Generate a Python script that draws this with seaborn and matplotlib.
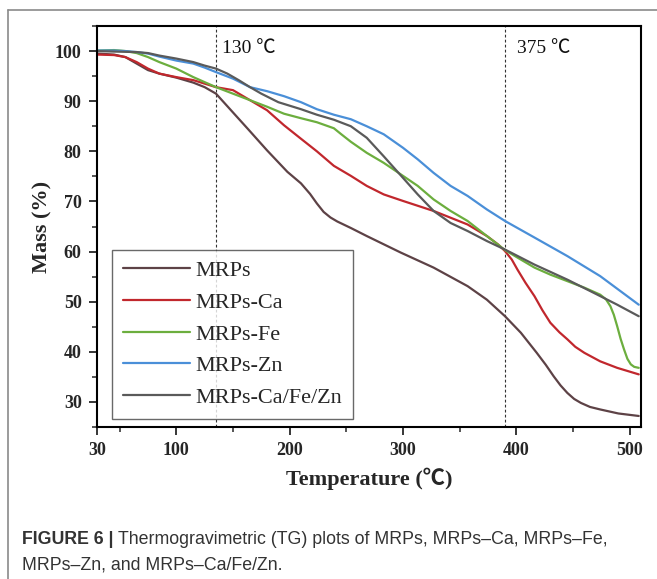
import pandas as pd
import matplotlib.pyplot as plt
import seaborn as sns
from matplotlib.ticker import MultipleLocator, FixedLocator
from matplotlib.lines import Line2D

# TG curves: temperature (C) and remaining mass (%)
mrps_t = [30, 45, 55, 65, 75, 85, 100, 115, 125, 135, 151, 163, 180, 198, 210, 218, 224, 230,
          236, 242, 254, 268, 298, 327, 357, 374, 390, 404, 418, 426, 433, 439, 445, 451, 457,
          465, 474, 490, 508]
mrps_m = [99.5, 99.3, 98.8, 97.5, 96.2, 95.5, 94.7, 93.7, 92.8, 91.5, 87.5, 84.5, 80.2, 75.9, 73.6,
          71.5, 69.6, 67.9, 66.8, 66.0, 64.7, 63.1, 59.8, 56.8, 53.1, 50.4, 47.1, 43.8, 39.8, 37.4,
          35.1, 33.3, 31.8, 30.6, 29.8, 29.0, 28.5, 27.7, 27.2]

ca_t = [30, 45, 55, 65, 75, 85, 100, 115, 125, 135, 150, 165, 180, 195, 210, 224, 239, 254, 268,
        283, 300, 327, 357, 374, 384, 390, 396, 401, 408, 416, 423, 430, 438, 445, 452, 460, 474,
        489, 508]
ca_m = [99.3, 99.2, 98.8, 97.8, 96.5, 95.5, 94.8, 94.2, 93.5, 92.8, 92.2, 90.2, 88.2, 85.2, 82.5,
        80.0, 77.1, 75.1, 73.1, 71.4, 70.1, 68.1, 65.4, 63.1, 61.4, 60.1, 58.4, 56.4, 53.8, 51.1,
        48.3, 45.8, 43.9, 42.5, 41.0, 39.8, 38.1, 36.8, 35.5]

fe_t = [30, 45, 55, 65, 75, 85, 100, 115, 125, 135, 150, 165, 180, 195, 210, 224, 239, 245, 254,
        268, 283, 300, 313, 327, 342, 357, 374, 390, 401, 416, 430, 445, 460, 474, 479, 483, 486,
        489, 492, 495, 498, 501, 504, 508]
fe_m = [100.1, 100.2, 100.0, 99.6, 98.8, 97.8, 96.5, 94.8, 93.8, 92.8, 91.5, 90.2, 88.9, 87.5,
        86.6, 85.8, 84.6, 83.5, 81.9, 79.7, 77.7, 75.1, 73.1, 70.4, 68.1, 66.1, 63.1, 60.3, 58.8,
        56.8, 55.4, 54.1, 52.8, 51.4, 50.5, 49.1, 47.4, 45.1, 42.6, 40.5, 38.6, 37.5, 37.0, 36.8]

zn_t = [30, 45, 55, 65, 75, 85, 100, 115, 125, 135, 150, 165, 180, 195, 210, 224, 239, 254, 268,
        283, 300, 313, 327, 342, 357, 374, 390, 416, 445, 474, 508]
zn_m = [100.1, 100.1, 100.0, 99.8, 99.5, 98.9, 98.1, 97.5, 96.7, 95.8, 94.5, 92.8, 92.0, 91.0,
        89.8, 88.4, 87.3, 86.4, 85.0, 83.4, 80.7, 78.4, 75.7, 73.1, 71.1, 68.4, 66.1, 62.8, 59.1,
        55.1, 49.4]

mix_t = [30, 45, 65, 75, 85, 100, 115, 125, 135, 145, 155, 165, 175, 190, 210, 224, 239, 254, 268,
         283, 300, 313, 327, 342, 357, 374, 390, 416, 445, 468, 489, 508]
mix_m = [100.0, 99.9, 99.8, 99.6, 99.1, 98.5, 97.8, 97.1, 96.5, 95.5, 94.2, 92.8, 91.5, 89.8, 88.4,
         87.3, 86.3, 85.0, 82.7, 79.0, 74.7, 71.4, 68.1, 65.7, 64.1, 62.1, 60.4, 57.4, 54.4, 51.8,
         49.4, 47.1]

samples = ['MRPs', 'MRPs-Ca', 'MRPs-Fe', 'MRPs-Zn', 'MRPs-Ca/Fe/Zn']
colors = ['#5d4246', '#c1272d', '#6cae3e', '#4a8fd8', '#5a5a5a']

# stage boundaries (dashed lines) and their labels
stage_x = [135, 390]
stage_labels = ['130 \u2103', '375 \u2103']

x_ticks = [30, 100, 200, 300, 400, 500]
y_ticks = [30, 40, 50, 60, 70, 80, 90, 100]

caption_bold = 'FIGURE 6 | '
caption_line1 = 'Thermogravimetric (TG) plots of MRPs, MRPs\u2013Ca, MRPs\u2013Fe,'
caption_line2 = 'MRPs\u2013Zn, and MRPs\u2013Ca/Fe/Zn.'

frames = []
for name, t, m in zip(samples, [mrps_t, ca_t, fe_t, zn_t, mix_t],
                      [mrps_m, ca_m, fe_m, zn_m, mix_m]):
    frames.append(pd.DataFrame({'temp': t, 'mass': m, 'sample': name}))
df = pd.concat(frames, ignore_index=True)

sns.set_style('ticks')
plt.rcParams['font.family'] = ['Liberation Serif', 'Noto Sans CJK SC']

fig = plt.figure(figsize=(6.57, 5.79), dpi=100)
ax = fig.add_axes([97 / 657, 1 - 427 / 579, 544 / 657, 401 / 579])

sns.lineplot(data=df, x='temp', y='mass', hue='sample', hue_order=samples,
             palette=colors, estimator=None, sort=False, linewidth=1.6, ax=ax)

for xv, lab, dx in zip(stage_x, stage_labels, [5, 10.5]):
    ax.axvline(xv, color='#333333', linestyle=(0, (2.5, 2)), linewidth=0.8, zorder=1)
    ax.text(xv + dx, 100.5, lab, fontsize=14, va='center', ha='left', color='#111111')

ax.set_xlim(30, 510)
ax.set_ylim(25, 105)
ax.xaxis.set_major_locator(FixedLocator(x_ticks))
ax.xaxis.set_minor_locator(FixedLocator([50, 150, 250, 350, 450]))
ax.yaxis.set_major_locator(FixedLocator(y_ticks))
ax.yaxis.set_minor_locator(MultipleLocator(5))
ax.tick_params(which='major', direction='out', length=6, width=1.3, labelsize=13, pad=5)
ax.tick_params(which='minor', direction='out', length=3.5, width=1.1)
for lab in ax.get_xticklabels() + ax.get_yticklabels():
    lab.set_fontweight('bold')
for sp in ax.spines.values():
    sp.set_linewidth(1.5)
    sp.set_color('black')

ax.set_xlabel('Temperature (\u2103)', fontsize=16, fontweight='bold', labelpad=6)
ax.set_ylabel('Mass (%)', fontsize=16, fontweight='bold', labelpad=2)

handles = [Line2D([], [], color=c, linewidth=1.6) for c in colors]
leg = ax.legend(handles, samples, loc='lower left', bbox_to_anchor=(0.028, 0.02),
                borderaxespad=0, frameon=True, fancybox=False, fontsize=16,
                handlelength=3.0, handletextpad=0.25, labelspacing=0.5,
                borderpad=0.5)
leg.get_frame().set_edgecolor('#444444')
leg.get_frame().set_linewidth(1.0)

# outer panel frame
fig.add_artist(Line2D([8 / 657, 8 / 657], [0, 1 - 10 / 579], transform=fig.transFigure,
                      color='#8a8a8a', linewidth=1.2))
fig.add_artist(Line2D([8 / 657, 1], [1 - 10 / 579, 1 - 10 / 579], transform=fig.transFigure,
                      color='#8a8a8a', linewidth=1.2))

# caption
cap_x = 22 / 657
cap_y1 = 1 - 540 / 579
cap_y2 = 1 - 565 / 579
t_bold = fig.text(cap_x, cap_y1, caption_bold, fontsize=12.8, fontweight='bold',
                  family='Liberation Sans', color='#333333', va='center')
fig.canvas.draw()
bb = t_bold.get_window_extent()
fig.text(bb.x1 / fig.bbox.width, cap_y1, caption_line1, fontsize=12.8,
         family='Liberation Sans', color='#333333', va='center')
fig.text(cap_x, cap_y2, caption_line2, fontsize=12.8, family='Liberation Sans',
         color='#333333', va='center')

fig.savefig('out.png', dpi=100)
